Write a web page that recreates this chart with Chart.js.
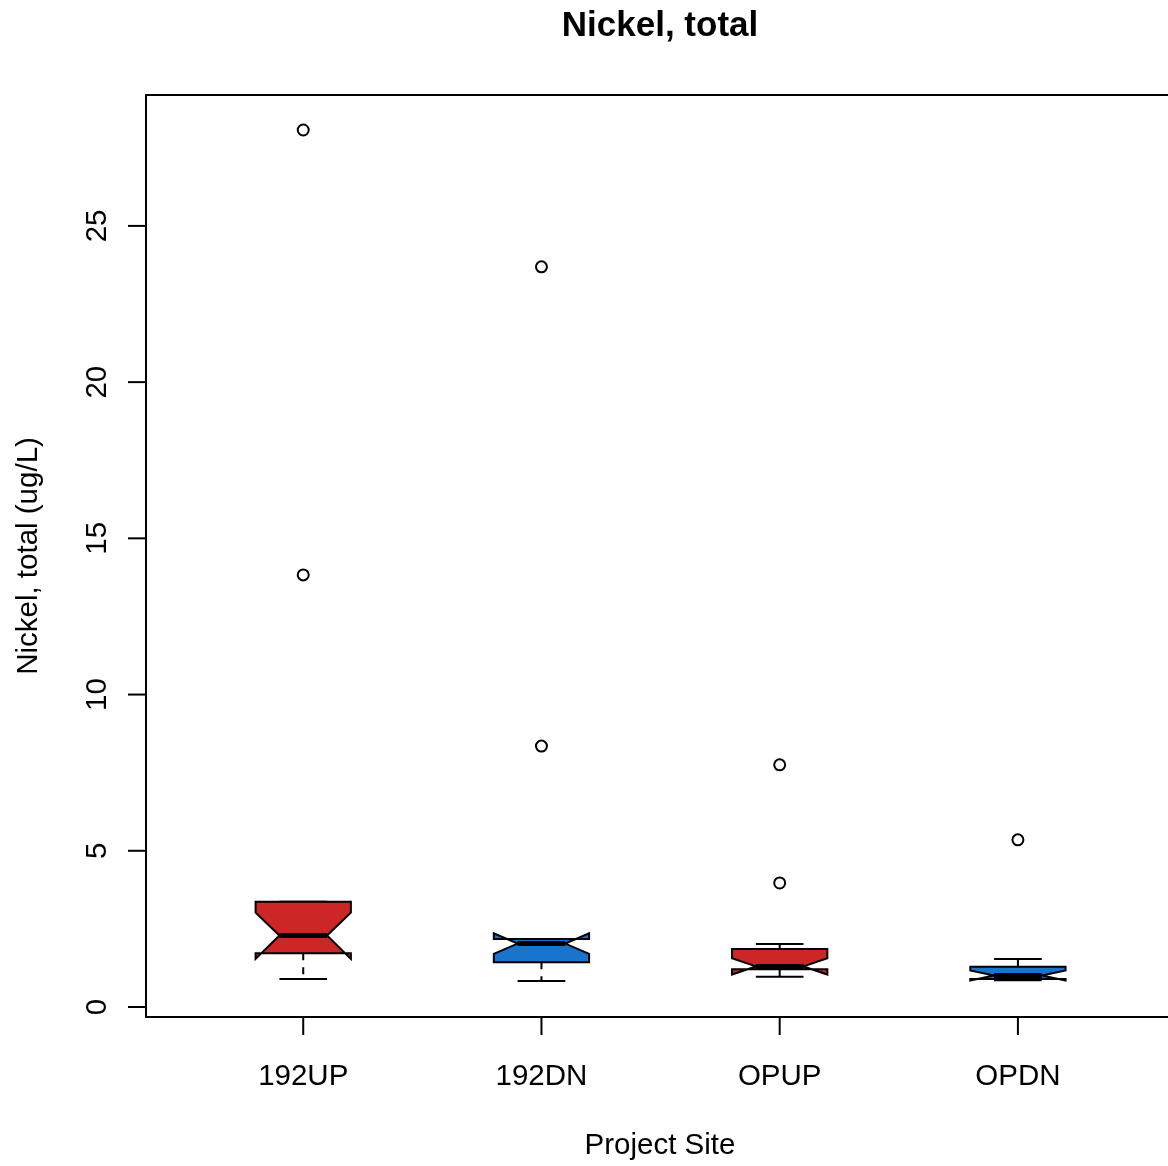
<!DOCTYPE html>
<html>
<head>
<meta charset="utf-8">
<title>Nickel, total</title>
<script src="https://cdn.jsdelivr.net/npm/chart.js@4/dist/chart.umd.min.js"></script>
<style>
  html, body { margin: 0; padding: 0; background: #ffffff; overflow: hidden; }
  #wrap { width: 1168px; height: 1166px; position: relative; }
</style>
</head>
<body>
<div id="wrap"><canvas id="chart" width="1168" height="1166"></canvas></div>
<script>
// Sites along the x axis
const sites = ['192UP', '192DN', 'OPUP', 'OPDN'];

// Box statistics per site (ug/L)
const whiskerLow  = [0.90, 0.83, 0.97, 0.86];
const q1          = [1.72, 1.43, 1.21, 0.90];
const median      = [2.29, 2.03, 1.30, 1.01];
const q3          = [3.37, 2.18, 1.86, 1.29];
const whiskerHigh = [3.37, 2.18, 2.02, 1.54];
const notchLow    = [1.54, 1.70, 1.04, 0.85];
const notchHigh   = [3.02, 2.36, 1.56, 1.17];

// Points beyond the whiskers
const outliers = [
  [13.83, 28.07],
  [8.35, 23.69],
  [3.97, 7.75],
  [5.35]
];

// Axis ticks
const yTickValues = [0, 5, 10, 15, 20, 25];

// Fill colours alternate upstream / downstream
const boxFill = ['#CD2626', '#1874CD', '#CD2626', '#1874CD'];

const FONT = '"Liberation Sans", Arial, Helvetica, sans-serif';

const outlierPoints = [];
outliers.forEach((vals, i) => vals.forEach(v => outlierPoints.push({ x: i + 1, y: v })));

const boxHalfWidth = 0.2;   // in x-axis units
const notchInset = 0.5;     // fraction of half width at the median
const capHalf = 0.5;        // staple width relative to half width

const boxPlotPlugin = {
  id: 'boxPlot',
  beforeDatasetsDraw(chart) {
    const ctx = chart.ctx;
    const xs = chart.scales.x, ys = chart.scales.y;
    ctx.save();
    sites.forEach((s, i) => {
      const c = i + 1;
      const xl = xs.getPixelForValue(c - boxHalfWidth);
      const xr = xs.getPixelForValue(c + boxHalfWidth);
      const xc = xs.getPixelForValue(c);
      const hw = (xr - xl) / 2;
      const ni = hw * notchInset;
      const ch = hw * capHalf;
      const yQ1 = ys.getPixelForValue(q1[i]);
      const yQ3 = ys.getPixelForValue(q3[i]);
      const yMed = ys.getPixelForValue(median[i]);
      const yNl = ys.getPixelForValue(notchLow[i]);
      const yNh = ys.getPixelForValue(notchHigh[i]);
      const yWl = ys.getPixelForValue(whiskerLow[i]);
      const yWh = ys.getPixelForValue(whiskerHigh[i]);

      // whiskers (dashed) and staples
      ctx.strokeStyle = '#000';
      ctx.lineWidth = 2;
      ctx.setLineDash([7, 7]);
      ctx.beginPath();
      ctx.moveTo(xc, yQ1); ctx.lineTo(xc, yWl);
      ctx.moveTo(xc, yQ3); ctx.lineTo(xc, yWh);
      ctx.stroke();
      ctx.setLineDash([]);
      ctx.beginPath();
      ctx.moveTo(xc - ch, yWl); ctx.lineTo(xc + ch, yWl);
      ctx.moveTo(xc - ch, yWh); ctx.lineTo(xc + ch, yWh);
      ctx.stroke();

      // notched box
      ctx.beginPath();
      ctx.moveTo(xl, yQ1);
      ctx.lineTo(xl, yNl);
      ctx.lineTo(xc - ni, yMed);
      ctx.lineTo(xl, yNh);
      ctx.lineTo(xl, yQ3);
      ctx.lineTo(xr, yQ3);
      ctx.lineTo(xr, yNh);
      ctx.lineTo(xc + ni, yMed);
      ctx.lineTo(xr, yNl);
      ctx.lineTo(xr, yQ1);
      ctx.closePath();
      ctx.fillStyle = boxFill[i];
      ctx.fill();
      ctx.lineJoin = 'miter';
      ctx.lineWidth = 2;
      ctx.stroke();

      // median
      ctx.lineWidth = 5;
      ctx.lineCap = 'butt';
      ctx.beginPath();
      ctx.moveTo(xc - ni, yMed); ctx.lineTo(xc + ni, yMed);
      ctx.stroke();
    });
    ctx.restore();
  },
  afterDraw(chart) {
    const ctx = chart.ctx;
    const ca = chart.chartArea;
    const xs = chart.scales.x, ys = chart.scales.y;
    ctx.save();
    ctx.strokeStyle = '#000';
    ctx.lineWidth = 2;
    // plot frame
    ctx.beginPath();
    ctx.moveTo(ca.right + 4, ca.top);
    ctx.lineTo(ca.left, ca.top);
    ctx.lineTo(ca.left, ca.bottom);
    ctx.lineTo(ca.right + 4, ca.bottom);
    ctx.stroke();

    ctx.fillStyle = '#000';
    // y ticks and rotated labels
    ctx.font = '29.5px ' + FONT;
    ctx.textAlign = 'center';
    ctx.textBaseline = 'middle';
    yTickValues.forEach(v => {
      const y = ys.getPixelForValue(v);
      ctx.beginPath();
      ctx.moveTo(ca.left, y); ctx.lineTo(ca.left - 18, y);
      ctx.stroke();
      ctx.save();
      ctx.translate(ca.left - 48, y);
      ctx.rotate(-Math.PI / 2);
      ctx.fillText(String(v), 0, 0);
      ctx.restore();
    });
    // x ticks and labels
    sites.forEach((s, i) => {
      const x = xs.getPixelForValue(i + 1);
      ctx.beginPath();
      ctx.moveTo(x, ca.bottom); ctx.lineTo(x, ca.bottom + 18);
      ctx.stroke();
      ctx.fillText(s, x, ca.bottom + 60);
    });

    // axis titles
    ctx.fillText('Project Site', 660, 1146);
    ctx.save();
    ctx.translate(29, (ca.top + ca.bottom) / 2);
    ctx.rotate(-Math.PI / 2);
    ctx.fillText('Nickel, total (ug/L)', 0, 0);
    ctx.restore();

    // main title
    ctx.font = 'bold 35px ' + FONT;
    ctx.fillText('Nickel, total', 660, 26);
    ctx.restore();
  }
};

new Chart(document.getElementById('chart'), {
  type: 'scatter',
  data: {
    datasets: [{
      label: 'outliers',
      data: outlierPoints,
      pointStyle: 'circle',
      pointRadius: 5.5,
      pointHoverRadius: 5.5,
      backgroundColor: 'rgba(0,0,0,0)',
      borderColor: '#000',
      borderWidth: 2,
      clip: false
    }]
  },
  options: {
    responsive: false,
    animation: false,
    events: [],
    layout: { autoPadding: false, padding: { left: 146, top: 95, right: 0, bottom: 149 } },
    plugins: { legend: { display: false }, tooltip: { enabled: false }, title: { display: false } },
    scales: {
      x: { type: 'linear', display: false, min: 0.34, max: 4.63 },
      y: { type: 'linear', display: false, min: -0.32, max: 29.19 }
    }
  },
  plugins: [boxPlotPlugin]
});
</script>
</body>
</html>
